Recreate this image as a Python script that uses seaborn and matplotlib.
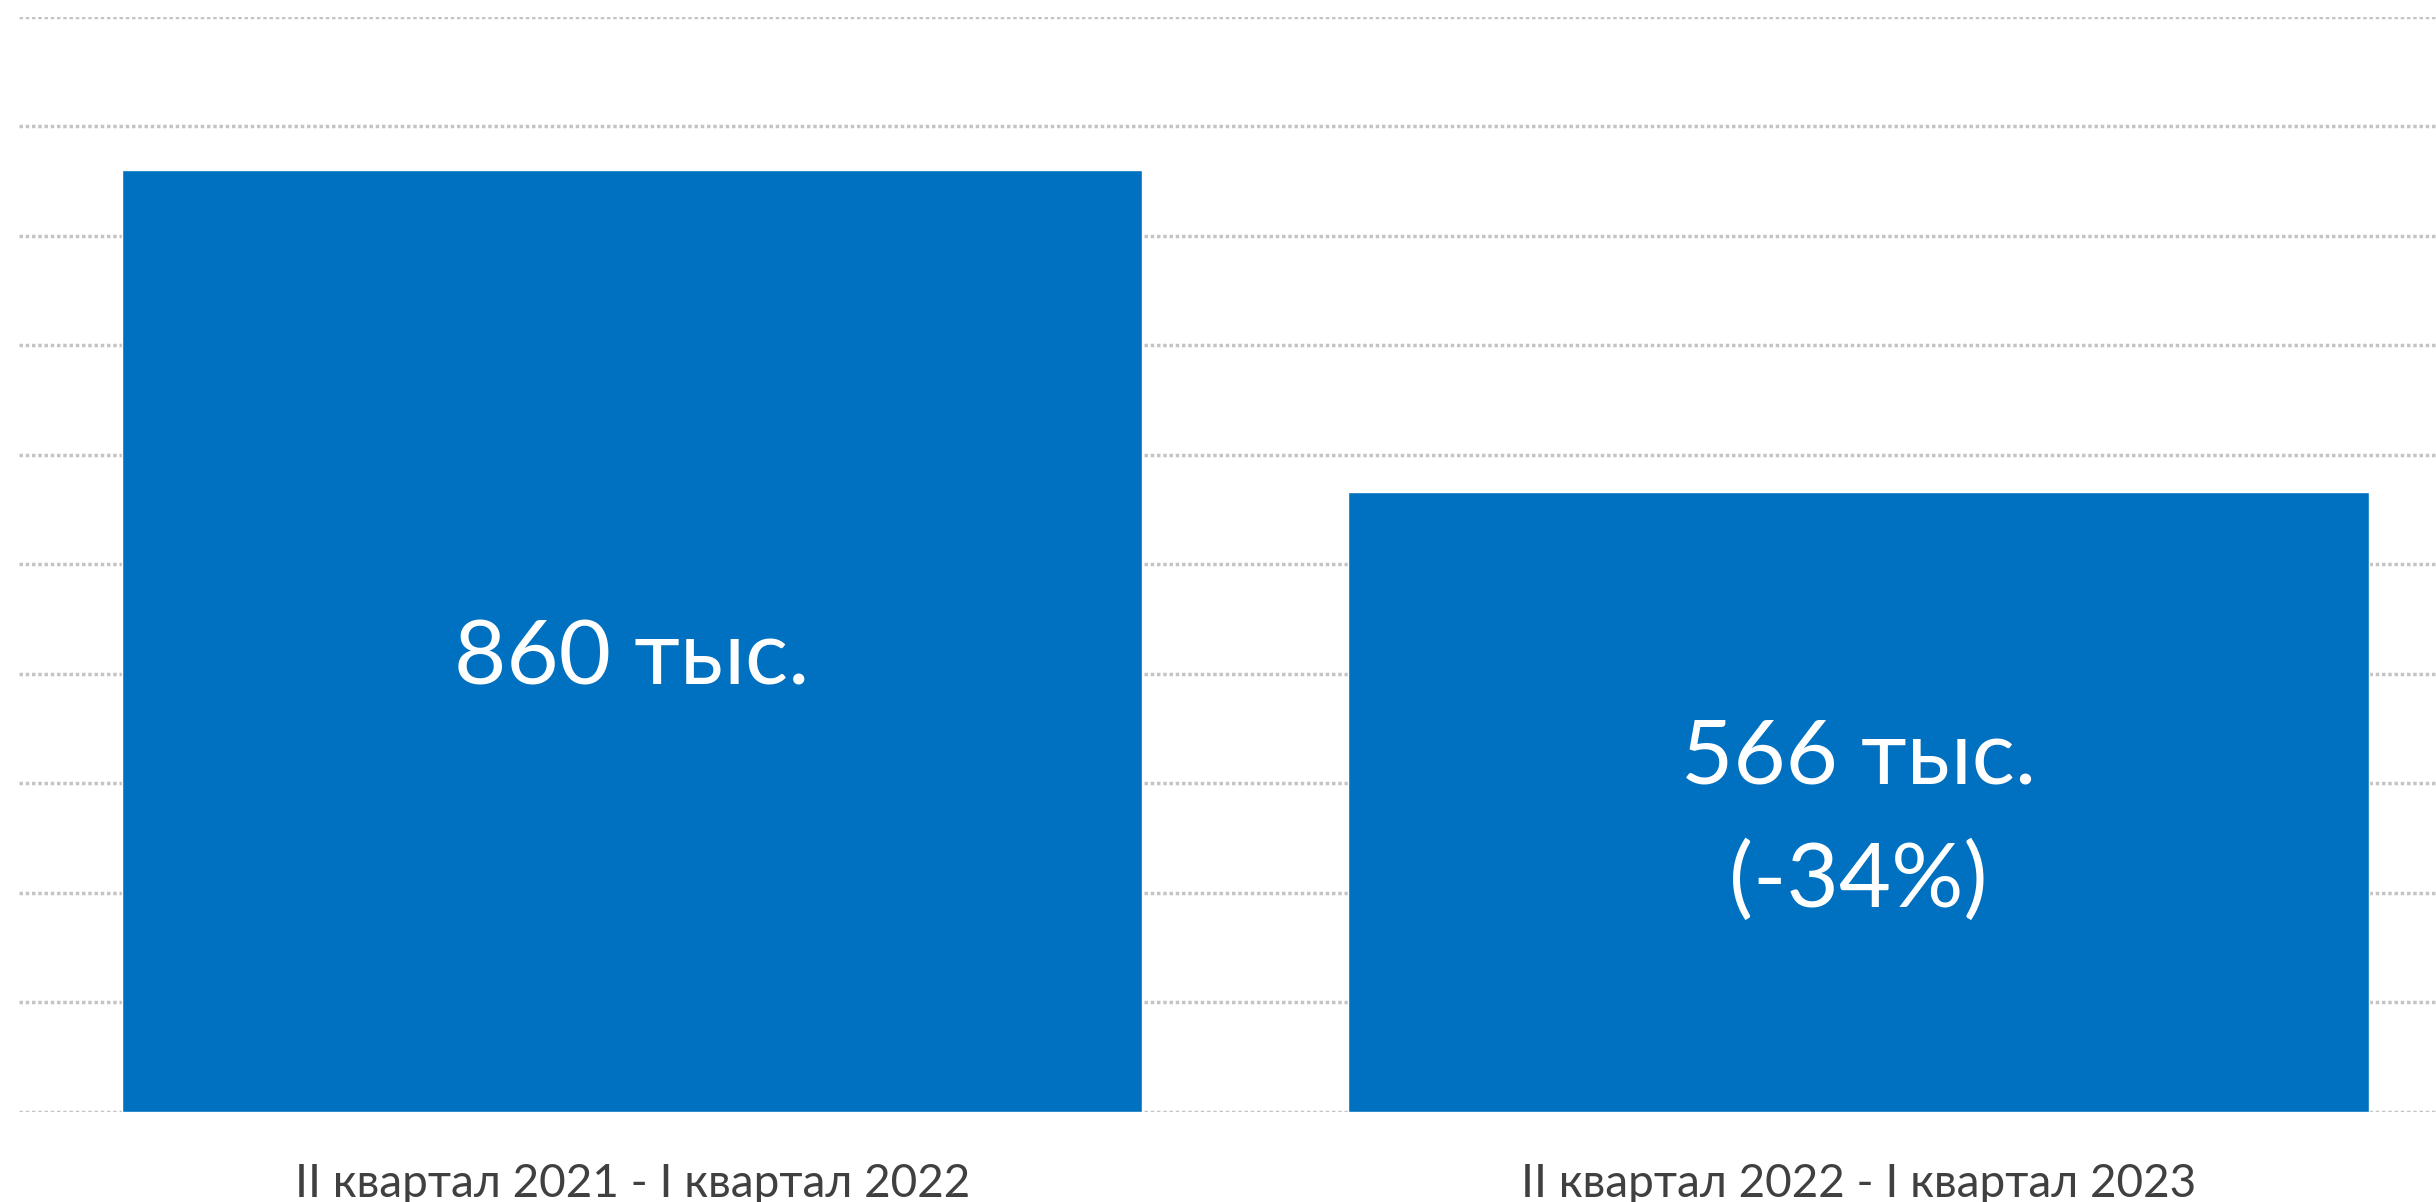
import matplotlib
matplotlib.use("Agg")
import matplotlib.pyplot as plt
import seaborn as sns
import pandas as pd

# данные
periods = ["II квартал 2021 - I квартал 2022", "II квартал 2022 - I квартал 2023"]
values = [860, 566]
value_labels = ["860 тыс.", "566 тыс.\n(-34%)"]

bar_color = "#0070C0"
grid_color = "#c4c4c4"
text_color = "#404040"

sns.set_theme(style="white")
plt.rcParams['font.family'] = ['Lato', 'DejaVu Sans']

df = pd.DataFrame({'period': periods, 'value': values})

fig = plt.figure(figsize=(24.36, 12.02), dpi=100)
ax = fig.add_axes([0.0078, 0.0749, 0.9922, 0.911])

sns.barplot(data=df, x='period', y='value', color=bar_color, saturation=1,
            width=0.832, ax=ax, zorder=3)

ax.set_ylim(0, 1000)
ax.set_xlim(-0.5, 1.471)
ax.set_yticks(range(0, 1001, 100))
ax.set_yticklabels([])
ax.tick_params(axis='y', length=0)
ax.tick_params(axis='x', length=0, pad=37, labelsize=33, labelcolor=text_color)
ax.yaxis.grid(True, color=grid_color, linestyle=(0, (1, 0.8)), linewidth=2.5, zorder=0)
ax.set_axisbelow(True)
for s in ax.spines.values():
    s.set_visible(False)
ax.set_xlabel('')
ax.set_ylabel('')

# подписи значений в центре столбцов
for i, (v, lab) in enumerate(zip(values, value_labels)):
    ax.annotate(lab, xy=(i, v / 2), xytext=(0, -13), textcoords='offset points',
                ha='center', va='center', color='white',
                fontsize=65, linespacing=1.62, zorder=4)

fig.savefig('out.png', dpi=100)
